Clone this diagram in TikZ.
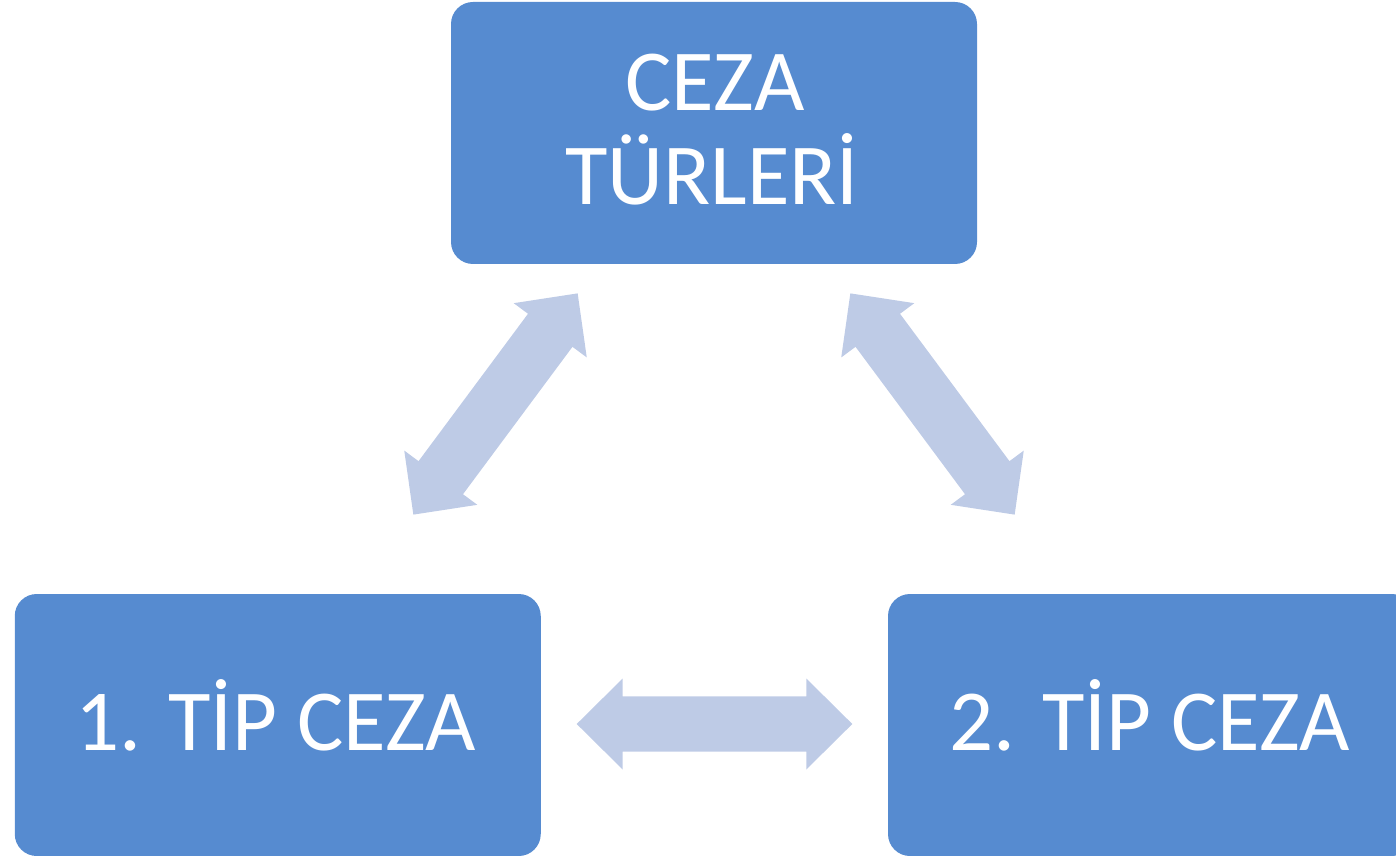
\documentclass[tikz,border=0pt]{standalone}
\usepackage{fontspec}
\setmainfont{Carlito}
\definecolor{boxblue}{RGB}{86,139,208}
\definecolor{arrowblue}{RGB}{190,203,230}
\tikzset{
  box/.style={rectangle, fill=boxblue, draw=none, minimum width=526pt, minimum height=262pt, inner sep=0pt, rounded corners=22pt},
  lbl/.style={text=white, inner sep=0pt, anchor=base, font=\fontsize{87}{97}\selectfont},
  arrowfill/.style={fill=arrowblue, draw=none}
}
\newcommand\dblarrow[4]{%
  \begin{scope}[shift={(#1,#2)},rotate=#3]
    \coordinate (#4) at (0,0);
    \fill[arrowfill] (-137.8,0) -- (-91.8,45.5) -- (-91.8,27.7) -- (91.8,27.7) -- (91.8,45.5) -- (137.8,0)
      -- (91.8,-45.5) -- (91.8,-27.7) -- (-91.8,-27.7) -- (-91.8,-45.5) -- cycle;
  \end{scope}}
\begin{document}
\begin{tikzpicture}[x=1pt,y=1pt]
\useasboundingbox (0,0) rectangle (1396,855);
\clip (0,0) rectangle (1396,855);
\node[box] (top) at (714,722) {};
\node[box] (left) at (277.75,130) {};
\node[box] (right) at (1151,130) {};
\node[lbl] (t1) at (715,744) {CEZA};
\node[lbl] (t2) at (712,650.5) {TÜRLERİ};
\node[lbl] (l1) at (276,104.5) {1. TİP CEZA};
\node[lbl] (r1) at (1150,104.5) {2. TİP CEZA};
\dblarrow{495.5}{451}{53.4}{aleft}
\dblarrow{932.5}{451}{-53.4}{aright}
\dblarrow{714.5}{131}{0}{abottom}
\end{tikzpicture}
\end{document}
